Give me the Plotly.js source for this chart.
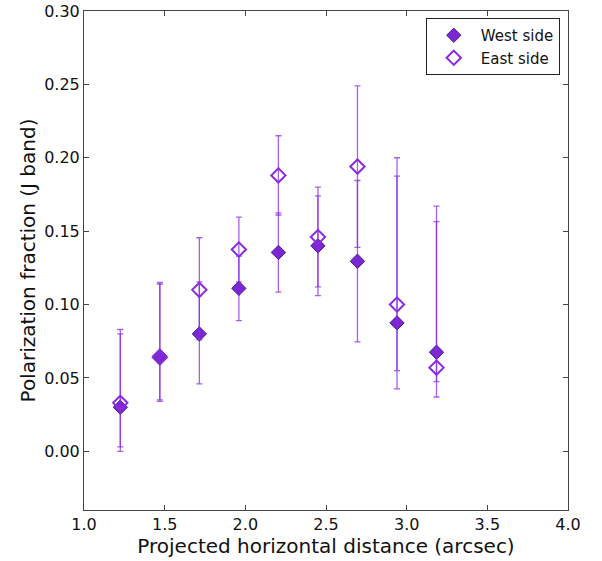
<!DOCTYPE html>
<html>
<head>
<meta charset="utf-8">
<script src="https://cdn.plot.ly/plotly-3.0.1.min.js"></script>
<style>html,body{margin:0;padding:0;background:#fff;}</style>
</head>
<body>
<div id="chart" style="width:602px;height:561px;"></div>
<script>
// Projected horizontal distance (arcsec)
const distance = [1.225, 1.47, 1.715, 1.96, 2.205, 2.45, 2.695, 2.94, 3.185];
// Polarization fraction (J band)
const westSide = [0.030, 0.065, 0.080, 0.111, 0.1355, 0.140, 0.1295, 0.0875, 0.0675];
const eastSide = [0.033, 0.064, 0.110, 0.1375, 0.188, 0.146, 0.194, 0.100, 0.057];
// Asymmetric uncertainties
const errPlus  = [0.050, 0.050, 0.0355, 0.022, 0.027, 0.034, 0.055, 0.100, 0.0995];
const errMinus = [0.030, 0.030, 0.034, 0.022, 0.027, 0.034, 0.055, 0.045, 0.020];

const purple = '#8A2BE2';
const barColor = 'rgba(138,43,226,0.75)';

const traces = [
  {
    x: distance, y: westSide, name: 'West side', type: 'scatter', mode: 'markers',
    marker: {symbol: 'diamond', size: 11, color: '#7B28D4', line: {color: '#4B1B8A', width: 1}},
    error_y: {type: 'data', symmetric: false, array: errPlus, arrayminus: errMinus,
              color: barColor, thickness: 1.3, width: 3}
  },
  {
    x: distance, y: eastSide, name: 'East side', type: 'scatter', mode: 'markers',
    marker: {symbol: 'diamond-open', size: 11, color: purple, line: {color: purple, width: 2}},
    error_y: {type: 'data', symmetric: false, array: errPlus, arrayminus: errMinus,
              color: barColor, thickness: 1.3, width: 3}
  }
];

const axisCommon = {
  showline: true, linecolor: '#444', linewidth: 1, mirror: 'ticks',
  ticks: 'inside', ticklen: 5, tickcolor: '#444', showgrid: false, zeroline: false,
  tickfont: {family: 'DejaVu Sans', size: 16, color: '#111'}
};

const layout = {
  width: 602, height: 561,
  margin: {l: 84, r: 34, t: 11, b: 51},
  paper_bgcolor: '#fff', plot_bgcolor: '#fff',
  showlegend: true,
  legend: {x: 0.983, y: 0.986, xanchor: 'right', yanchor: 'top',
           bgcolor: '#fff', bordercolor: '#222', borderwidth: 1,
           itemwidth: 44,
           font: {family: 'DejaVu Sans', size: 15, color: '#111'}},
  xaxis: Object.assign({}, axisCommon, {
    range: [1.0, 4.0], tick0: 1.0, dtick: 0.5, tickformat: '.1f',
    title: {text: 'Projected horizontal distance (arcsec)', standoff: 4,
            font: {family: 'DejaVu Sans', size: 20, color: '#111'}}
  }),
  yaxis: Object.assign({}, axisCommon, {
    range: [-0.04, 0.30], tick0: 0, dtick: 0.05, tickformat: '.2f',
    title: {text: 'Polarization fraction (J band)', standoff: 3,
            font: {family: 'DejaVu Sans', size: 20, color: '#111'}}
  })
};

Plotly.newPlot('chart', traces, layout, {displayModeBar: false, staticPlot: true});
</script>
</body>
</html>
